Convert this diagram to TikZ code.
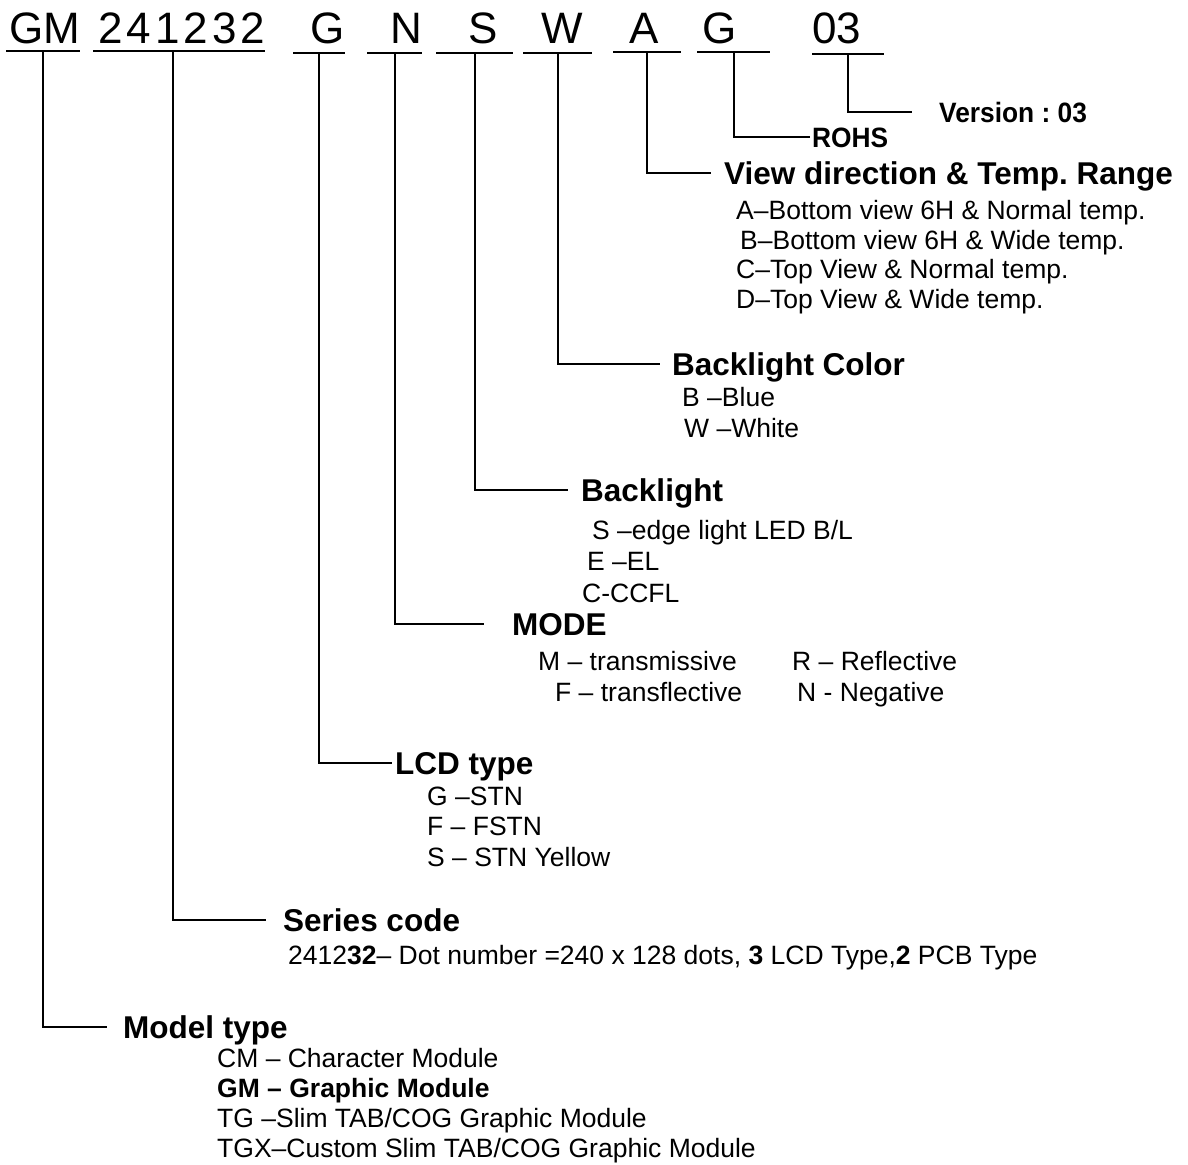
\documentclass[tikz,border=0pt]{standalone}
\usepackage{fontspec}
\setmainfont{Liberation Sans}
\newfontfamily\narrowfont[FakeStretch=0.94]{Liberation Sans}
\usetikzlibrary{positioning}
\frenchspacing

\newcommand{\codefont}{\fontsize{44}{44}\selectfont}
\newcommand{\headfont}{\fontsize{31.5}{32}\selectfont\bfseries}
\newcommand{\smallheadfont}{\narrowfont\fontsize{28}{28}\selectfont\bfseries}
\newcommand{\itemfont}{\fontsize{26.5}{30}\selectfont}
\newcommand{\codepad}[1]{\hspace*{#1}\null}

\tikzset{
    code/.style={
        anchor=south west, inner sep=0pt,
        text height=32pt, text depth=9pt,
        font=\codefont, align=right
    },
    head/.style={
        anchor=base west, inner sep=0pt,
        text height=22pt, text depth=0pt,
        font=\headfont
    },
    smallhead/.style={
        head, text height=20pt, font=\smallheadfont
    },
    item/.style={
        anchor=base west, inner sep=0pt, font=\itemfont
    },
    link/.style={
        draw=black, line width=1.8pt
    }
}

\begin{document}
\begin{tikzpicture}[x=1pt, y=-1pt]
    \useasboundingbox (0,0) rectangle (1188,1164);

    % PART NUMBER
    \node[code, text width=74pt, text depth=7pt] (gm) at (6,51) {GM};
    \node[code, text width=172pt, text depth=7pt] (series) at (93,51) {\addfontfeature{LetterSpace=9}241232};
    \node[code, text width=52pt] (lcd) at (293,53) {G};
    \node[code, text width=55pt] (mode) at (367,53) {N};
    \node[code, text width=77pt] (backlight) at (436,53) {S\codepad{15pt}};
    \node[code, text width=69pt] (color) at (523,53) {W\codepad{9pt}};
    \node[code, text width=68pt, text depth=8pt] (view) at (613,52) {A\codepad{22pt}};
    \node[code, text width=73pt, text depth=8pt] (rohs) at (697,52) {G\codepad{33pt}};
    \node[code, text width=72pt, text depth=10pt] (version) at (812,54) {03\codepad{27pt}};

    % underlines
    \foreach \c in {gm,series,lcd,mode,backlight,color,view,rohs,version}
        \draw[link] (\c.south west) -- (\c.south east);

    % HEADINGS
    \node[smallhead] (versionhead) at (939,122) {Version : 03};
    \node[smallhead] (rohshead) at (812,147) {ROHS};
    \node[head] (viewhead) at (724,184) {View direction \& Temp. Range};
    \node[head] (colorhead) at (672,375) {Backlight Color};
    \node[head] (backlighthead) at (581,501) {Backlight};
    \node[head] (modehead) at (512,635) {MODE};
    \node[head] (lcdhead) at (395,774) {LCD type};
    \node[head] (serieshead) at (283,931) {Series code};
    \node[head] (modelhead) at (123,1038) {Model type};

    % View direction & Temp. Range
    \node[item] (viewa) at (736,219) {A–Bottom view 6H \& Normal temp.};
    \node[item] (viewb) at (740,249) {B–Bottom view 6H \& Wide temp.};
    \node[item] (viewc) at (736,278) {C–Top View \& Normal temp.};
    \node[item] (viewd) at (736,308) {D–Top View \& Wide temp.};

    % Backlight Color
    \node[item] (colorb) at (682,406) {B –Blue};
    \node[item] (colorw) at (684,437) {W –White};

    % Backlight
    \node[item] (backlights) at (592,539) {S –edge light LED B/L};
    \node[item] (backlighte) at (587,570) {E –EL};
    \node[item] (backlightc) at (582,602) {C-CCFL};

    % MODE
    \node[item] (modem) at (538,670) {M – transmissive};
    \node[item] (moder) at (792,670) {R – Reflective};
    \node[item] (modef) at (555,701) {F – transflective};
    \node[item] (moden) at (797,701) {N - Negative};

    % LCD type
    \node[item] (lcdg) at (427,805) {G –STN};
    \node[item] (lcdf) at (427,835) {F – FSTN};
    \node[item] (lcds) at (427,866) {S – STN Yellow};

    % Series code
    \node[item] (seriesdots) at (288,964) {2412\textbf{32}– Dot number =240 x 128 dots, \textbf{3} LCD Type,\textbf{2} PCB Type};

    % Model type
    \node[item] (modelcm) at (217,1067) {CM – Character Module};
    \node[item] (modelgm) at (217,1097) {\textbf{GM – Graphic Module}};
    \node[item] (modeltg) at (217,1127) {TG –Slim TAB/COG Graphic Module};
    \node[item] (modeltgx) at (217,1157) {TGX–Custom Slim TAB/COG Graphic Module};

    % Connections
    \draw[link] (version.south) |- ([xshift=-27pt]versionhead.west);
    \draw[link] (rohs.south) |- ([xshift=-2pt]rohshead.west);
    \draw[link] (view.south) |- ([xshift=-13pt]viewhead.west);
    \draw[link] (color.south) |- ([xshift=-12pt]colorhead.west);
    \draw[link] (backlight.south) |- ([xshift=-13pt]backlighthead.west);
    \draw[link] (mode.south) |- ([xshift=-28pt]modehead.west);
    \draw[link] (lcd.south) |- ([xshift=-3pt]lcdhead.west);
    \draw[link] ([xshift=-6pt]series.south) |- ([xshift=-17pt]serieshead.west);
    \draw[link] (gm.south) |- ([xshift=-16pt]modelhead.west);

\end{tikzpicture}
\end{document}
